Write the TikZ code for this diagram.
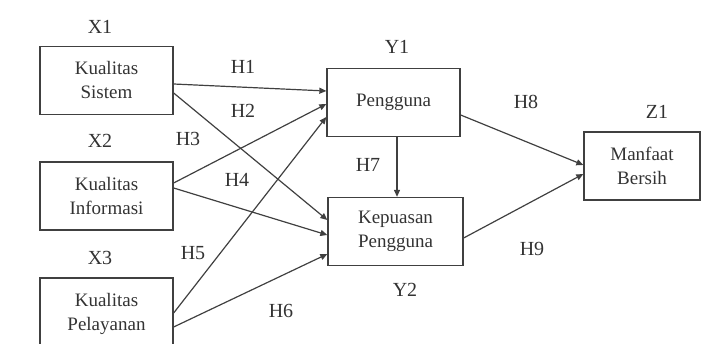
\documentclass[tikz,border=0pt]{standalone}
\usepackage{fontspec}
\setmainfont{Liberation Serif}
\usetikzlibrary{arrows.meta}
\begin{document}
\begin{tikzpicture}[x=1pt,y=-1pt,
  box/.style={draw=black!75,line width=1.3pt,minimum width=133pt,minimum height=68pt,align=center,font=\fontsize{19}{24}\selectfont,text=black!80,inner sep=0pt},
  lab/.style={font=\fontsize{20}{22}\selectfont,text=black!80},
  conn/.style={draw=black!75,line width=1.2pt,-{Triangle[length=7pt,width=6pt]}}]
\useasboundingbox (0,0) rectangle (706,344);
\node[box] (x1) at (106.5,80.5) {Kualitas\\Sistem};
\node[box] (x2) at (106.5,196) {Kualitas\\Informasi};
\node[box,minimum height=72pt] (x3) at (106.5,314) {Kualitas\\Pelayanan};
\node[box] (y1) at (393.5,102.5) {Pengguna};
\node[box,minimum width=135pt] (y2) at (395.5,231.5) {Kepuasan\\Pengguna};
\node[box,minimum width=116pt] (z1) at (642,166) {Manfaat\\Bersih};
\node[lab] (lx1) at (100,27) {X1};
\node[lab] (lx2) at (100,141) {X2};
\node[lab] (lx3) at (100,258) {X3};
\node[lab] (ly1) at (397,47) {Y1};
\node[lab] (ly2) at (405,290) {Y2};
\node[lab] (lz1) at (657,112) {Z1};
\node[lab] (h1) at (243,67) {H1};
\node[lab] (h2) at (243,111) {H2};
\node[lab] (h3) at (188,139) {H3};
\node[lab] (h4) at (237,180) {H4};
\node[lab] (h5) at (193,253) {H5};
\node[lab] (h6) at (281,311) {H6};
\node[lab] (h7) at (368,165) {H7};
\node[lab] (h8) at (526,102) {H8};
\node[lab] (h9) at (532,249) {H9};
\draw[conn] (x1.east |- 0,84) -- (y1.west |- 0,91);
\draw[conn] (x1.east |- 0,93) -- (y2.west |- 0,220);
\draw[conn] (x2.east |- 0,183) -- (y1.west |- 0,104);
\draw[conn] (x2.east |- 0,188) -- (y2.west |- 0,235);
\draw[conn] (x3.east |- 0,313) -- (y1.west |- 0,117);
\draw[conn] (x3.east |- 0,327) -- (y2.west |- 0,254);
\draw[conn] (y1.east |- 0,115) -- (z1.west |- 0,165);
\draw[conn] (y2.east |- 0,238) -- (z1.west |- 0,174);
\draw[conn] (y1.south -| 397,0) -- (y2.north -| 397,0);
\end{tikzpicture}
\end{document}
